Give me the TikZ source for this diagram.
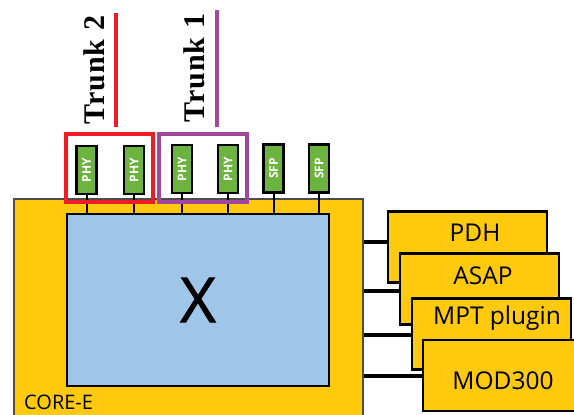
\documentclass[tikz,border=0pt]{standalone}
\usepackage{fontspec}
\setmainfont{Open Sans}
\newfontfamily\trunkfont[LetterSpace=3]{Liberation Serif}
\definecolor{coreyel}{HTML}{FFC90E}
\definecolor{xblue}{HTML}{9FC5E8}
\definecolor{phygreen}{HTML}{6DB33F}
\definecolor{trkred}{HTML}{EE1C24}
\definecolor{trkpurple}{HTML}{A3479E}
\tikzset{
  corebox/.style={draw=black!70, line width=1.8pt, fill=coreyel, minimum width=349pt, minimum height=226pt, inner sep=0pt},
  xbox/.style={draw=black, line width=2pt, fill=xblue, minimum width=262pt, minimum height=172pt, inner sep=0pt},
  portbox/.style={draw=black, line width=2.2pt, fill=phygreen, minimum width=20pt, minimum height=48pt, inner sep=0pt,
    font=\fontsize{12}{12}\selectfont\bfseries, text=white},
  trunkbox/.style={line width=4pt, minimum height=68pt, inner sep=0pt},
  trunkline/.style={line width=4pt},
  trunklabel/.style={rotate=90, font=\trunkfont\fontsize{30}{30}\selectfont\bfseries},
  modbox/.style={draw=black, line width=2.2pt, fill=coreyel, minimum width=159pt, minimum height=71pt, inner sep=0pt},
  modlabel/.style={font=\fontsize{24.5}{25}\selectfont},
  link/.style={draw=black, line width=2pt},
  modlink/.style={draw=black, line width=3.5pt},
}
\begin{document}
\begin{tikzpicture}[x=1pt,y=-1pt]
\useasboundingbox (0,0) rectangle (574,415);
\clip (0,0) rectangle (574,415);
% core
\node[corebox] (core) at (188.5,312) {};
\node[xbox] (x) at (198,300) {\fontsize{62}{62}\selectfont\addfontfeature{FakeBold=1.2}X};
\node[anchor=west, font=\fontsize{20}{20}\selectfont, inner sep=0pt] (corelabel) at (24,402) {CORE-E};
% ports
\node[portbox] (p1) at (86.5,170) {\rotatebox{90}{PHY}};
\node[portbox] (p2) at (134,170) {\rotatebox{90}{PHY}};
\node[portbox] (p3) at (182,169) {\rotatebox{90}{PHY}};
\node[portbox] (p4) at (228,169) {\rotatebox{90}{PHY}};
\node[portbox] (s1) at (273.5,168.5) {\rotatebox{90}{SFP}};
\node[portbox] (s2) at (319,168.5) {\rotatebox{90}{SFP}};
\foreach \p in {p1,p2,p3,p4,s1,s2}{
  \draw[link] (\p.south) -- (\p.south |- x.north);
}
% trunk groups
\node[trunkbox, draw=trkred, minimum width=87pt] (t2box) at (109,167.5) {};
\node[trunkbox, draw=trkpurple, minimum width=88pt] (t1box) at (202.5,167.5) {};
\coordinate (t2top) at (116,13);
\coordinate (t1top) at (217,10);
\draw[trunkline, trkred] (t2top) -- (t2top |- 0,127);
\draw[trunkline, trkpurple] (t1top) -- (t1top |- 0,127);
\node[trunklabel] (t2lab) at (94,70) {Trunk 2};
\node[trunklabel] (t1lab) at (194,68) {Trunk 1};
% modules
\node[modbox] (pdh) at (467.5,247) {};
\node[modlabel] at (475,233) {PDH};
\node[modbox] (asap) at (479.5,289) {};
\node[modlabel] at (483,276) {ASAP};
\node[modbox] (mpt) at (491.5,334) {};
\node[modlabel] at (497,318) {MPT plugin};
\node[modbox, minimum width=155pt] (mod) at (500.5,375.5) {};
\node[modlabel] at (503,381) {MOD300};
% links
\draw[modlink] (core.east |- 0,242) -- (pdh.west |- 0,242);
\draw[modlink] (core.east |- 0,291) -- (asap.west |- 0,291);
\draw[modlink] (core.east |- 0,335) -- (mpt.west |- 0,335);
\draw[modlink] (core.east |- 0,376) -- (mod.west |- 0,376);
\end{tikzpicture}
\end{document}
